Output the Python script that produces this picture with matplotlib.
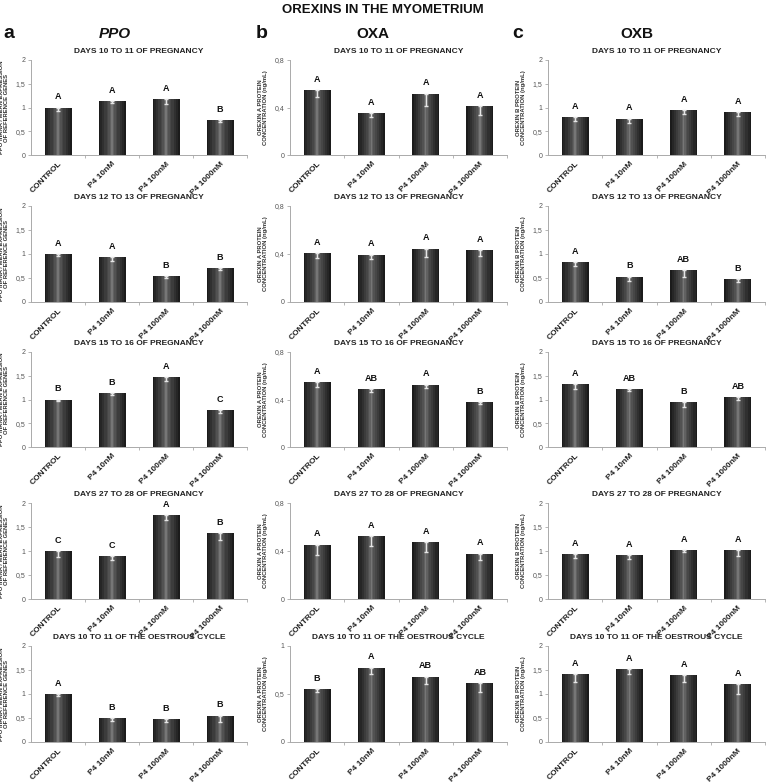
import matplotlib
matplotlib.use("Agg")
import matplotlib.pyplot as plt

plt.rcParams['font.family'] = ['Liberation Sans', 'DejaVu Sans']

groups = ["CONTROL", "P4 10nM", "P4 100nM", "P4 1000nM"]
periods = ["DAYS 10 TO 11 OF PREGNANCY", "DAYS 12 TO 13 OF PREGNANCY",
           "DAYS 15 TO 16 OF PREGNANCY", "DAYS 27 TO 28 OF PREGNANCY",
           "DAYS 10 TO 11 OF THE OESTROUS CYCLE"]

# PPO mRNA
ppo_vals = [[1.00, 1.14, 1.18, 0.74],
            [1.00, 0.94, 0.54, 0.71],
            [1.00, 1.13, 1.47, 0.77],
            [1.00, 0.89, 1.75, 1.38],
            [1.00, 0.50, 0.47, 0.55]]
ppo_err = [[0.07, 0.04, 0.11, 0.05],
           [0.05, 0.09, 0.03, 0.05],
           [0.04, 0.03, 0.07, 0.05],
           [0.12, 0.08, 0.10, 0.16],
           [0.05, 0.07, 0.05, 0.14]]
ppo_letters = [["A", "A", "A", "B"],
               ["A", "A", "B", "B"],
               ["B", "B", "A", "C"],
               ["C", "C", "A", "B"],
               ["A", "B", "B", "B"]]

# orexin A
oxa_vals = [[0.545, 0.35, 0.517, 0.41],
            [0.41, 0.395, 0.445, 0.433],
            [0.546, 0.487, 0.525, 0.378],
            [0.454, 0.524, 0.474, 0.379],
            [0.552, 0.776, 0.682, 0.612]]
oxa_err = [[0.06, 0.03, 0.107, 0.07],
           [0.046, 0.037, 0.067, 0.047],
           [0.04, 0.02, 0.03, 0.02],
           [0.09, 0.08, 0.08, 0.05],
           [0.03, 0.07, 0.08, 0.095]]
oxa_letters = [["A", "A", "A", "A"],
               ["A", "A", "A", "A"],
               ["A", "AB", "A", "B"],
               ["A", "A", "A", "A"],
               ["B", "A", "AB", "AB"]]

# orexin B
oxb_vals = [[0.79, 0.765, 0.947, 0.905],
            [0.825, 0.53, 0.67, 0.48],
            [1.33, 1.22, 0.95, 1.05],
            [0.94, 0.92, 1.02, 1.02],
            [1.42, 1.52, 1.39, 1.20]]
oxb_err = [[0.075, 0.09, 0.085, 0.09],
           [0.085, 0.1, 0.15, 0.07],
           [0.1, 0.05, 0.1, 0.06],
           [0.08, 0.08, 0.04, 0.13],
           [0.17, 0.11, 0.14, 0.19]]
oxb_letters = [["A", "A", "A", "A"],
               ["A", "B", "AB", "B"],
               ["A", "AB", "B", "AB"],
               ["A", "A", "A", "A"],
               ["A", "A", "A", "A"]]

ppo_ticks = [0, 0.5, 1, 1.5, 2]
ppo_ticklabels = ["0", "0,5", "1", "1,5", "2"]
oxa_ticks = [0, 0.4, 0.8]
oxa_ticklabels = ["0", "0,4", "0,8"]
oxa_ticks_last = [0, 0.5, 1]
oxa_ticklabels_last = ["0", "0,5", "1"]

W, H = 766, 782
fig = plt.figure(figsize=(W / 100, H / 100), dpi=100)

col_x = [(31, 216), (290, 217), (548, 217)]
row_y = [(60, 155), (206, 302), (352, 447), (503, 599), (646, 742)]

# bar shading: dark edges, lighter middle
layers = [(0.50, "#1b1b1b"), (0.44, "#262626"), (0.36, "#303030"),
          (0.28, "#3c3c3c"), (0.20, "#474747"), (0.13, "#525252"),
          (0.07, "#616161"), (0.025, "#767676")]

columns = [
    (ppo_vals, ppo_err, ppo_letters, "PPO mRNA / MEAN EXPRESSION\nOF REFERENCE GENES"),
    (oxa_vals, oxa_err, oxa_letters, "OREXIN A PROTEIN\nCONCENTRATION (ng/mL)"),
    (oxb_vals, oxb_err, oxb_letters, "OREXIN B PROTEIN\nCONCENTRATION (ng/mL)"),
]
label_x = [9, 268, 526]  # centre of y-label in pixels

for c, (vals, errs, letters, ylab) in enumerate(columns):
    x0, w = col_x[c]
    for r in range(5):
        top, bot = row_y[r]
        ax = fig.add_axes([x0 / W, 1 - bot / H, w / W, (bot - top) / H])
        xs = list(range(len(groups)))
        for bw, col in layers:
            ax.bar(xs, vals[r], width=bw, color=col, zorder=2)
        ax.errorbar(xs, vals[r], yerr=[errs[r], [0] * 4], fmt="none",
                    ecolor="#e6e6e6", elinewidth=1.0, capsize=1.6, capthick=1.0, zorder=3)
        for i in xs:
            ax.annotate(letters[r][i], (i, vals[r][i]), xytext=(0, 4.5),
                        textcoords="offset points", ha="center", va="bottom",
                        fontsize=6.5, fontweight="bold", color="#111111")

        if c == 1:
            if r == 4:
                ax.set_ylim(0, 1)
                ax.set_yticks(oxa_ticks_last, oxa_ticklabels_last)
            else:
                ax.set_ylim(0, 0.8)
                ax.set_yticks(oxa_ticks, oxa_ticklabels)
        else:
            ax.set_ylim(0, 2)
            ax.set_yticks(ppo_ticks, ppo_ticklabels)
        ax.set_xlim(-0.5, 3.5)

        ax.set_xticks(xs)
        ax.set_xticklabels(groups, rotation=45, ha="right", rotation_mode="anchor",
                           fontsize=6, fontweight="bold", color="#222222")
        ax.set_xticks([0.5, 1.5, 2.5, 3.5], minor=True)
        ax.tick_params(axis="x", which="major", length=0, pad=4)
        ax.tick_params(axis="x", which="minor", length=2.5, color="#aaaaaa", width=0.6)
        ax.tick_params(axis="y", length=2, width=0.6, color="#aaaaaa",
                       labelsize=5, labelcolor="#555555", pad=2)

        for s in ("top", "right"):
            ax.spines[s].set_visible(False)
        for s in ("left", "bottom"):
            ax.spines[s].set_color("#aaaaaa")
            ax.spines[s].set_linewidth(0.7)

        ax.set_title(periods[r], fontsize=6, fontweight="bold", color="#222222", pad=5)
        ax.set_ylabel(ylab, fontsize=4.2, fontweight="bold", color="#333333",
                      linespacing=1.0)
        ax.yaxis.set_label_coords((label_x[c] - x0) / w, 0.5)

fig.text(0.5, 1 - 10 / H, "OREXINS IN THE MYOMETRIUM", ha="center", va="center",
         fontsize=9.5, fontweight="bold", color="#111111")
fig.text(115 / W, 1 - 34 / H, "PPO", ha="center", va="center", fontsize=11,
         fontweight="bold", fontstyle="italic", color="#111111")
fig.text(373 / W, 1 - 34 / H, "OXA", ha="center", va="center", fontsize=11,
         fontweight="bold", color="#111111")
fig.text(637 / W, 1 - 34 / H, "OXB", ha="center", va="center", fontsize=11,
         fontweight="bold", color="#111111")
for lab, px in (("a", 9), ("b", 262), ("c", 518)):
    fig.text(px / W, 1 - 34 / H, lab, ha="center", va="center", fontsize=14,
             fontweight="bold", color="#111111")

fig.savefig("out.png", dpi=100)
